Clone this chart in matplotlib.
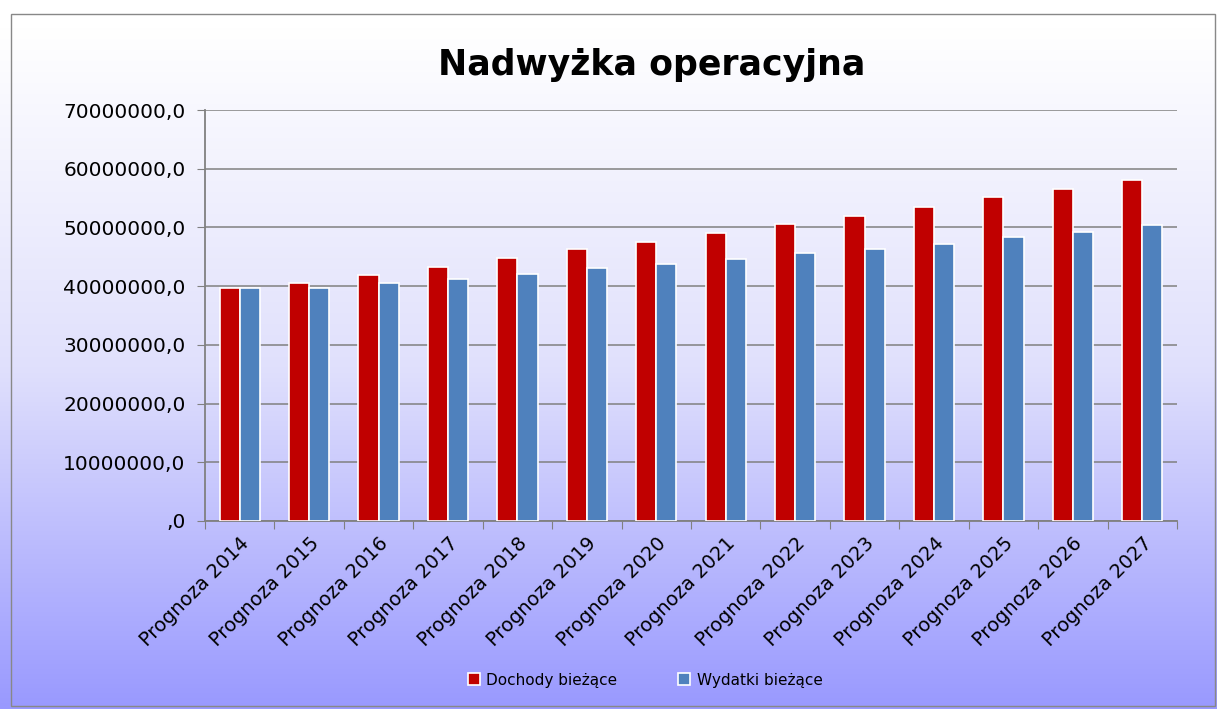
import numpy as np
import matplotlib
matplotlib.use("Agg")
import matplotlib.pyplot as plt
from matplotlib.patches import Rectangle
from matplotlib.ticker import FuncFormatter, MultipleLocator
from matplotlib.colors import LinearSegmentedColormap

categories = ["Prognoza 2014", "Prognoza 2015", "Prognoza 2016", "Prognoza 2017",
              "Prognoza 2018", "Prognoza 2019", "Prognoza 2020", "Prognoza 2021",
              "Prognoza 2022", "Prognoza 2023", "Prognoza 2024", "Prognoza 2025",
              "Prognoza 2026", "Prognoza 2027"]
dochody = [39.6e6, 40.5e6, 41.9e6, 43.2e6, 44.75e6, 46.3e6, 47.5e6, 49.0e6,
           50.5e6, 51.9e6, 53.5e6, 55.1e6, 56.6e6, 58.1e6]
wydatki = [39.6e6, 39.6e6, 40.5e6, 41.3e6, 42.0e6, 43.05e6, 43.7e6, 44.6e6,
           45.6e6, 46.3e6, 47.1e6, 48.3e6, 49.2e6, 50.4e6]
series_names = ["Dochody bieżące", "Wydatki bieżące"]
colors = ["#C00000", "#4F81BD"]
title = "Nadwyżka operacyjna"

W, H = 1217, 709
fig = plt.figure(figsize=(W / 100, H / 100), dpi=100)

# gradient background
bg = fig.add_axes([0, 0, 1, 1], zorder=-10)
cmap = LinearSegmentedColormap.from_list("g", ["#ffffff", "#e0e0fc", "#9999ff"])
grad = np.linspace(0, 1, 256).reshape(-1, 1)
grad = np.concatenate([np.zeros((10, 1)), grad])
bg.imshow(grad, aspect="auto", cmap=cmap, extent=[0, 1, 0, 1], origin="upper")
bg.set_xlim(0, 1); bg.set_ylim(0, 1)
bg.axis("off")

fig.patches.append(Rectangle((11 / W, 1 - 706 / H), (1215 - 11) / W, (706 - 14) / H,
                             transform=fig.transFigure, fill=False,
                             edgecolor="#888888", linewidth=1.0, zorder=5))

ax = fig.add_axes([205 / W, 1 - 521 / H, (1177 - 205) / W, (521 - 110) / H])
ax.patch.set_alpha(0)

x = np.arange(len(categories))
bw = 0.29
ax.bar(x - bw / 2, dochody, bw, color=colors[0], edgecolor="white", linewidth=1.2,
       label=series_names[0], zorder=3)
ax.bar(x + bw / 2, wydatki, bw, color=colors[1], edgecolor="white", linewidth=1.2,
       label=series_names[1], zorder=3)

ax.set_xlim(-0.5, len(categories) - 0.5)
ax.set_ylim(0, 70e6)
ax.yaxis.set_major_locator(MultipleLocator(10e6))
ax.yaxis.set_major_formatter(FuncFormatter(lambda v, p: ("%d,0" % v) if v > 0 else ",0"))
ax.grid(axis="y", color="#808080", linewidth=1.1, zorder=1)
ax.set_axisbelow(True)

ax.set_xticks(np.arange(len(categories) + 1) - 0.5, minor=False)
ax.set_xticklabels([])
ax.set_xticks(x, minor=True)
ax.set_xticklabels(categories, minor=True, rotation=45, ha="right",
                   rotation_mode="anchor", fontsize=14)
ax.tick_params(axis="x", which="minor", length=0, pad=9)
ax.tick_params(axis="x", which="major", length=6, color="#808080")
ax.tick_params(axis="y", length=6, color="#808080", labelsize=14.5, pad=8)

for s in ["top", "right"]:
    ax.spines[s].set_visible(False)
for s in ["left", "bottom"]:
    ax.spines[s].set_color("#808080")
    ax.spines[s].set_linewidth(1.3)

fig.text(652 / W, 1 - 65 / H, title, ha="center", va="center", fontsize=25,
         fontweight="bold")

leg = fig.legend(loc="center", bbox_to_anchor=(645 / W, 1 - 680 / H), ncol=2,
                 frameon=False, fontsize=11, handlelength=0.8, handleheight=0.8,
                 columnspacing=4, handletextpad=0.4)

fig.savefig("out.png", dpi=100)
